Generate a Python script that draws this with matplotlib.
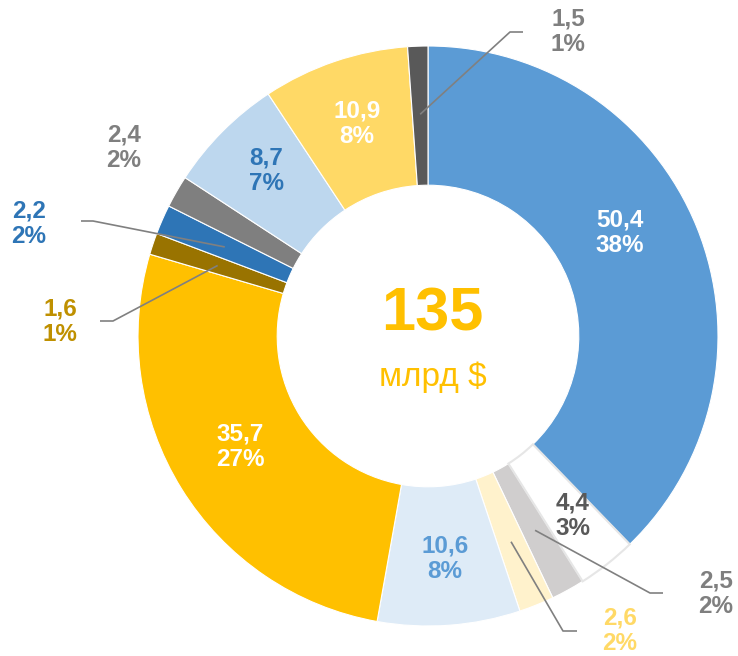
import numpy as np
import matplotlib
matplotlib.use("Agg")
import matplotlib.pyplot as plt

# ---- data ----
values = [50.4, 4.4, 2.5, 2.6, 10.6, 35.7, 1.6, 2.2, 2.4, 8.7, 10.9, 1.5]
value_labels = ["50,4", "4,4", "2,5", "2,6", "10,6", "35,7", "1,6", "2,2", "2,4", "8,7", "10,9", "1,5"]
pct_labels = ["38%", "3%", "2%", "2%", "8%", "27%", "1%", "2%", "2%", "7%", "8%", "1%"]
total_text = "135"
unit_text = "млрд $"

# ---- style ----
colors = ["#5B9BD5", "#FFFFFF", "#D0CECE", "#FFF2CC", "#DEEBF7", "#FFC000",
          "#997300", "#2E75B6", "#7F7F7F", "#BDD7EE", "#FFD966", "#595959"]
text_colors = ["#FFFFFF", "#595959", "#7F7F7F", "#FFD966", "#5B9BD5", "#FFFFFF",
               "#BF9000", "#2E75B6", "#7F7F7F", "#2E75B6", "#FFFFFF", "#7F7F7F"]
# label block centres in pixel coords (x, y from top)
label_pos = [(620, 233), (573, 516), (716, 594), (620, 631), (445, 559), (240, 447),
             (60, 322), (29, 224), (124, 148), (266, 171), (357, 124), (568, 32)]
# leader lines: index -> (elbow, end) in pixel coords
leaders = {2: [(650, 593), (663, 593)],
           3: [(563, 631), (577, 631)],
           6: [(113, 321), (100, 321)],
           7: [(93, 221), (81, 221)],
           11: [(510, 32), (523, 32)]}

W, H = 738, 656
CX, CY, R = 428, 336, 290
WIDTH = 0.48

plt.rcParams['font.family'] = ['Liberation Sans', 'DejaVu Sans']

fig = plt.figure(figsize=(W / 100, H / 100), dpi=100)
ax = fig.add_axes([0, 0, 1, 1])


def P(x, y):
    return x, H - y


wedges, _ = ax.pie(values, colors=colors, startangle=90, counterclock=False,
                   radius=R, center=P(CX, CY),
                   wedgeprops=dict(width=R * WIDTH, edgecolor='white', linewidth=0.8))
wedges[1].set_edgecolor('#E6E6E6')
wedges[1].set_linewidth(1.5)
wedges[1].set_zorder(3)

ax.set_xlim(0, W)
ax.set_ylim(0, H)
ax.set_aspect('equal')
ax.axis('off')

for i, w in enumerate(wedges):
    x, y = label_pos[i]
    ax.text(*P(x, y), f"{value_labels[i]}\n{pct_labels[i]}", ha='center', va='center',
            multialignment='center', fontsize=17.5, fontweight='bold',
            color=text_colors[i], linespacing=1.12, zorder=5)
    if i in leaders:
        mid = np.deg2rad((w.theta1 + w.theta2) / 2)
        cx, cy = P(CX, CY)
        sx = cx + 0.765 * R * np.cos(mid)
        sy = cy + 0.765 * R * np.sin(mid)
        pts = [(sx, sy)] + [P(*p) for p in leaders[i]]
        xs, ys = zip(*pts)
        ax.plot(xs, ys, color='#808080', lw=1.2, zorder=4, solid_capstyle='butt')

ax.text(*P(432, 315), total_text, ha='center', va='center', fontsize=44,
        fontweight='bold', color='#FFC000')
ax.text(*P(433, 386), unit_text, ha='center', va='baseline', fontsize=24,
        color='#FFC000')

fig.savefig('out.png', dpi=100)
